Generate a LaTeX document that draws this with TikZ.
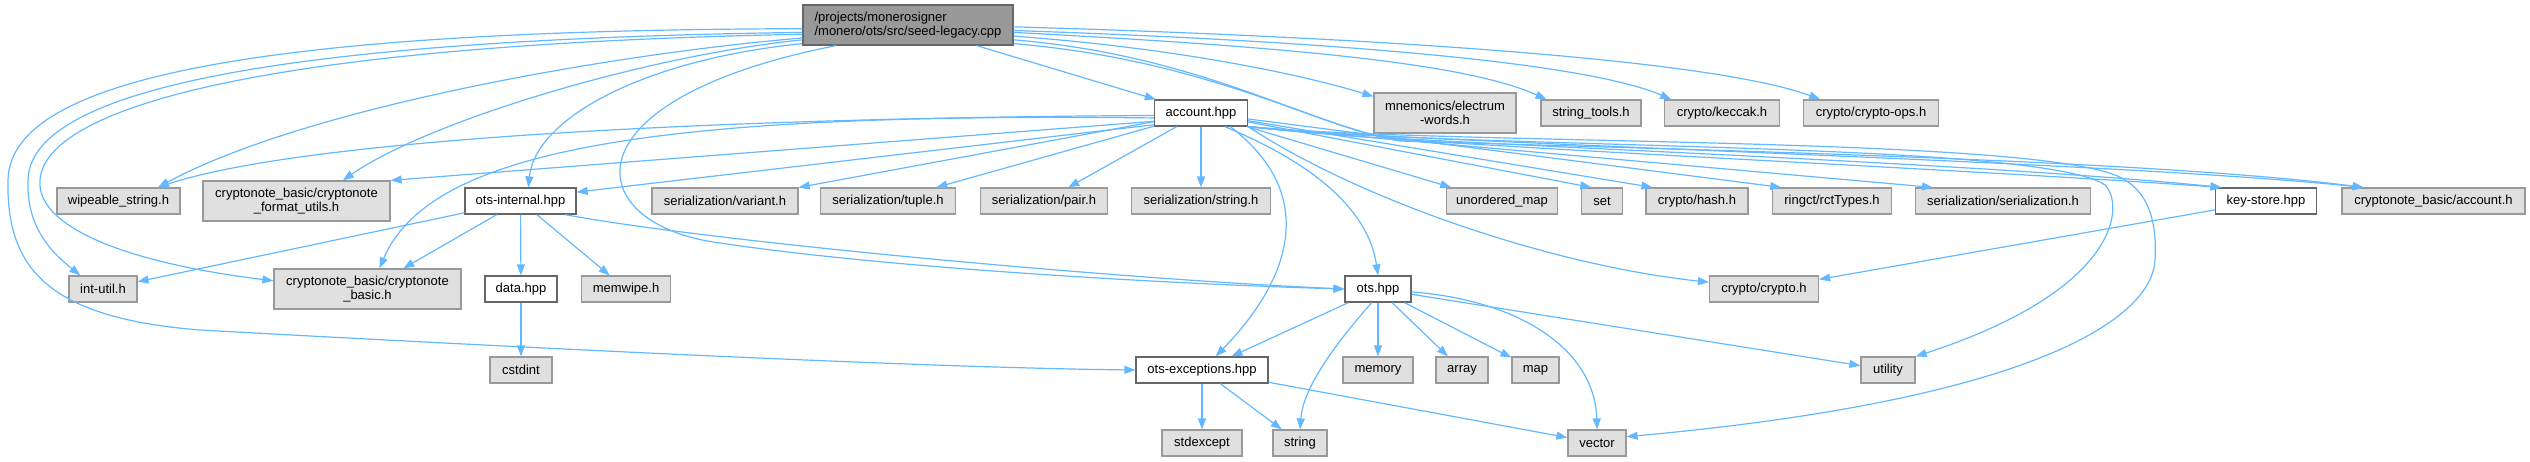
\documentclass[tikz,border=0pt]{standalone}
\usepackage{fontspec}
\setmainfont{Liberation Sans}
\usepackage{xcolor}
\usetikzlibrary{arrows.meta,shapes,positioning}
\definecolor{edgeblue}{HTML}{63B8FF}
\definecolor{extfill}{HTML}{E0E0E0}
\definecolor{extdraw}{HTML}{999999}
\definecolor{docdraw}{HTML}{666666}
\definecolor{rootfill}{HTML}{999999}
\tikzset{%
    >={Triangle[width=8pt,length=11pt]},
    % Specifications for style of nodes:
    base/.style = {
        rectangle, line width=1.2pt,
        minimum height=26pt, inner sep=1pt,
        font=\fontsize{13}{14}\selectfont,
        align=center
    },
    ext/.style = {base, draw=extdraw, fill=extfill},
    doc/.style = {base, draw=docdraw, fill=white},
    mainfile/.style = {base, draw=docdraw, fill=rootfill, align=left, minimum height=40pt},
    twoline/.style = {minimum height=40pt},
    dep/.style = {->, draw=edgeblue, line width=1.2pt}
}
\begin{document}
\begin{tikzpicture}[x=1pt, y=-1pt]
    \useasboundingbox (0,0) rectangle (2530,461);
    % files
    \node[mainfile, minimum width=210pt] (mainf) at (908,25) {/projects/monerosigner\\/monero/ots/src/seed-legacy.cpp};
    \node[doc, minimum width=93pt] (account) at (1201,113) {account.hpp};
    \node[ext, twoline, minimum width=142pt] (mnem) at (1445,113) {mnemonics/electrum\\-words.h};
    \node[ext, minimum width=100pt] (strtools) at (1591,113) {string\_tools.h};
    \node[ext, minimum width=115pt] (keccak) at (1722,113) {crypto/keccak.h};
    \node[ext, minimum width=135pt] (cops) at (1871,113) {crypto/crypto-ops.h};
    \node[ext, minimum width=123pt] (wipe) at (118.5,201) {wipeable\_string.h};
    \node[ext, twoline, minimum width=187pt] (fmtutils) at (296.5,201) {cryptonote\_basic/cryptonote\\\_format\_utils.h};
    \node[doc, minimum width=111pt] (otsint) at (520.5,201) {ots-internal.hpp};
    \node[ext, minimum width=146pt] (variant) at (725,201) {serialization/variant.h};
    \node[ext, minimum width=135pt] (tuple) at (888,201) {serialization/tuple.h};
    \node[ext, minimum width=127pt] (pair) at (1044,201) {serialization/pair.h};
    \node[ext, minimum width=139pt] (sstring) at (1201,201) {serialization/string.h};
    \node[ext, minimum width=111pt] (umap) at (1502,201) {unordered\_map};
    \node[ext, minimum width=41pt] (sset) at (1602,201) {set};
    \node[ext, minimum width=102pt] (hash) at (1697,201) {crypto/hash.h};
    \node[ext, minimum width=119pt] (rct) at (1832,201) {ringct/rctTypes.h};
    \node[ext, minimum width=175pt] (serial) at (2003,201) {serialization/serialization.h};
    \node[doc, minimum width=101pt] (keystore) at (2266,201) {key-store.hpp};
    \node[ext, minimum width=183pt] (acct) at (2433.5,201) {cryptonote\_basic/account.h};
    \node[ext, minimum width=68pt] (intutil) at (103,289) {int-util.h};
    \node[ext, twoline, minimum width=187pt] (basic) at (367.5,289) {cryptonote\_basic/cryptonote\\\_basic.h};
    \node[doc, minimum width=72pt] (data) at (521,289) {data.hpp};
    \node[ext, minimum width=89pt] (memwipe) at (626,289) {memwipe.h};
    \node[doc, minimum width=66pt] (otshpp) at (1378,289) {ots.hpp};
    \node[ext, minimum width=109pt] (crypto) at (1764,289) {crypto/crypto.h};
    \node[ext, minimum width=62pt] (cstdint) at (521,370) {cstdint};
    \node[doc, minimum width=132pt] (otsexc) at (1202,370) {ots-exceptions.hpp};
    \node[ext, minimum width=70pt] (memory) at (1378,370) {memory};
    \node[ext, minimum width=52pt] (array) at (1462,370) {array};
    \node[ext, minimum width=47pt] (map) at (1535.5,370) {map};
    \node[ext, minimum width=54pt] (utility) at (1888,370) {utility};
    \node[ext, minimum width=80pt] (stdexcept) at (1202,443) {stdexcept};
    \node[ext, minimum width=54pt] (string) at (1300,443) {string};
    \node[ext, minimum width=58pt] (vector) at (1597,443) {vector};

    % seed-legacy.cpp
    \draw[dep] (mainf) -- (account);
    \draw[dep] (mainf.-6) .. controls (1200,50) and (1320,80) .. (mnem.167);
    \draw[dep] (mainf.-4) .. controls (1250,45) and (1460,60) .. (strtools.163);
    \draw[dep] (mainf.-3) .. controls (1300,40) and (1580,60) .. (keccak.165);
    \draw[dep] (mainf.-1) .. controls (1300,35) and (1700,55) .. (cops.165);
    \draw[dep] (mainf.187) .. controls (600,55) and (300,110) .. (wipe.19);
    \draw[dep] (mainf.188) .. controls (650,55) and (430,120) .. (fmtutils.24);
    \draw[dep] (mainf.190) .. controls (640,60) and (535,120) .. (otsint.60);
    \draw[dep] (mainf.184) .. controls (250,40) and (30,95) .. (28,180) .. controls (26,230) and (55,255) .. (intutil.149);
    \draw[dep] (mainf.185) .. controls (250,45) and (45,110) .. (40,180) .. controls (36,225) and (120,262) .. (basic.175);
    \draw[dep] (mainf.182) .. controls (250,30) and (10,80) .. (8,180) .. controls (6,270) and (50,318) .. (200,330) .. controls (600,352) and (950,368) .. (otsexc.west);
    \draw[dep] (mainf.196) .. controls (560,100) and (580,225) .. (720,243) .. controls (900,270) and (1200,285) .. (otshpp.west);
    \draw[dep] (mainf.-8) .. controls (1200,55) and (1310,125) .. (1390,138) .. controls (1600,150) and (2000,165) .. (keystore.163);
    \draw[dep] (mainf.-10) .. controls (1210,60) and (1320,128) .. (1400,141) .. controls (1700,150) and (2150,160) .. (acct.169);

    % account.hpp
    \draw[dep] (account.183) .. controls (700,118) and (300,140) .. (wipe.19);
    \draw[dep] (account.186) .. controls (650,112) and (430,150) .. (basic.60);
    \draw[dep] (account.190) -- (fmtutils.north east);
    \draw[dep] (account.194) -- (otsint.9);
    \draw[dep] (account) -- (variant);
    \draw[dep] (account) -- (tuple);
    \draw[dep] (account) -- (pair);
    \draw[dep] (account) -- (sstring);
    \draw[dep] (account) -- (umap.165);
    \draw[dep] (account) -- (sset.128);
    \draw[dep] (account) -- (hash.163);
    \draw[dep] (account) -- (rct.165);
    \draw[dep] (account.south east) -- (serial.169);
    \draw[dep] (account.south east) .. controls (1400,145) and (1900,165) .. (keystore.163);
    \draw[dep] (account.south east) .. controls (1400,143) and (2100,160) .. (acct.169);
    \draw[dep] (account.-30) .. controls (1330,170) and (1370,220) .. (otshpp.north);
    \draw[dep] (account.-25) .. controls (1320,195) and (1290,280) .. (otsexc.45);
    \draw[dep] (account.south east) .. controls (1360,200) and (1550,265) .. (crypto.173);
    \draw[dep] (account.south east) .. controls (1450,150) and (2040,140) .. (2105,185) .. controls (2125,205) and (2120,290) .. (utility.north east);
    \draw[dep] (account.south east) .. controls (1450,146) and (2060,135) .. (2125,180) .. controls (2150,195) and (2157,225) .. (2155,260) .. controls (2152,320) and (2030,400) .. (vector.12);

    % ots-internal.hpp
    \draw[dep] (otsint) -- (intutil);
    \draw[dep] (otsint) -- (basic);
    \draw[dep] (otsint) -- (data);
    \draw[dep] (otsint) -- (memwipe);
    \draw[dep] (otsint.-17) .. controls (700,240) and (1100,278) .. (otshpp.west);
    \draw[dep] (data) -- (cstdint);

    % ots.hpp
    \draw[dep] (otshpp) -- (otsexc);
    \draw[dep] (otshpp.-115) .. controls (1330,350) and (1303,390) .. (string.north);
    \draw[dep] (otshpp) -- (memory);
    \draw[dep] (otshpp) -- (array);
    \draw[dep] (otshpp) -- (map);
    \draw[dep] (otshpp) -- (utility);
    \draw[dep] (otshpp.-5) .. controls (1520,300) and (1595,350) .. (vector.north);

    % ots-exceptions.hpp, key-store.hpp
    \draw[dep] (otsexc) -- (stdexcept);
    \draw[dep] (otsexc) -- (string);
    \draw[dep] (otsexc) -- (vector);
    \draw[dep] (keystore) -- (crypto);
\end{tikzpicture}
\end{document}
